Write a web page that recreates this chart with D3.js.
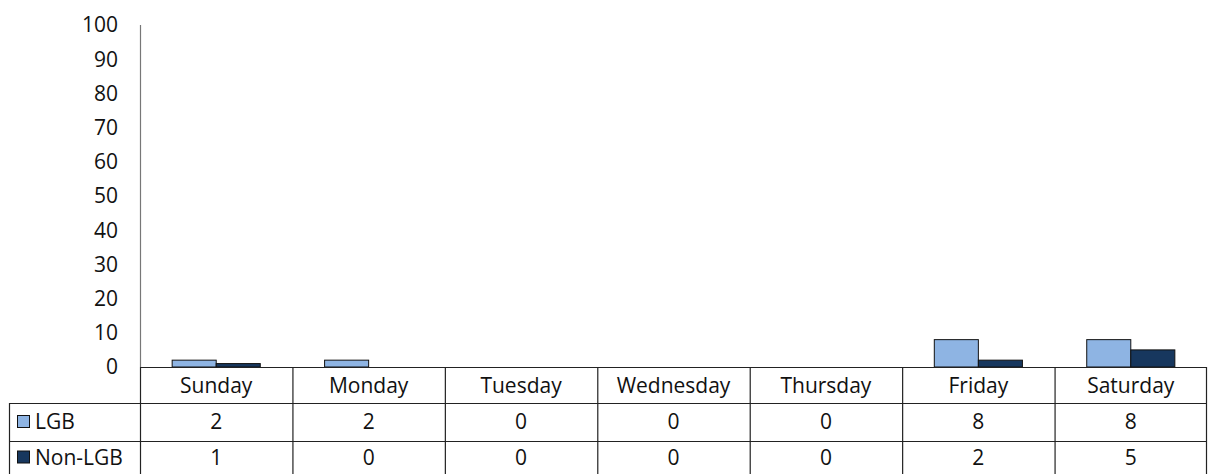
<!DOCTYPE html>
<html>
<head>
<meta charset="utf-8">
<script src="https://cdn.jsdelivr.net/npm/d3@7"></script>
<style>
  html, body { margin: 0; padding: 0; background: #fff; }
  svg { display: block; font-family: "Open Sans", "Noto Sans", sans-serif; }
  .tick-label { font-size: 21px; fill: #111; }
  .cell-text { font-size: 21px; fill: #111; }
</style>
</head>
<body>
<div id="chart"></div>
<script>
  // Data
  const days = ["Sunday", "Monday", "Tuesday", "Wednesday", "Thursday", "Friday", "Saturday"];
  const seriesNames = ["LGB", "Non-LGB"];
  const lgb = [2, 2, 0, 0, 0, 8, 8];
  const nonLgb = [1, 0, 0, 0, 0, 2, 5];
  const yTicks = [0, 10, 20, 30, 40, 50, 60, 70, 80, 90, 100];

  const COLORS = ["#8eb4e3", "#17375e"];
  const seriesValues = [lgb, nonLgb];

  const W = 1210, H = 474;
  const plotLeft = 140, plotRight = 1207;
  const plotTop = 25, plotBottom = 367;
  const tableLeft = 9;
  const rowTops = [367, 403, 441, 474];

  const svg = d3.select("#chart").append("svg")
    .attr("width", W).attr("height", H);

  const x = d3.scaleBand().domain(days).range([plotLeft, plotRight]);
  const xs = d3.scaleBand().domain(seriesNames)
    .range([0, x.bandwidth()]).paddingOuter(0.73);
  const y = d3.scaleLinear().domain([0, 100]).range([plotBottom, plotTop]);

  // Y axis labels
  svg.append("g").selectAll("text")
    .data(yTicks).join("text")
    .attr("class", "tick-label")
    .attr("x", 118)
    .attr("y", d => y(d))
    .attr("dy", "0.35em")
    .attr("text-anchor", "end")
    .text(d => d);

  // Y axis line
  svg.append("line")
    .attr("x1", plotLeft + 0.5).attr("x2", plotLeft + 0.5)
    .attr("y1", plotTop).attr("y2", plotBottom)
    .attr("stroke", "#777").attr("stroke-width", 1.2);

  // Bars
  seriesNames.forEach((s, si) => {
    svg.append("g").selectAll("rect")
      .data(days.map((d, i) => ({ day: d, v: seriesValues[si][i] })).filter(d => d.v > 0))
      .join("rect")
      .attr("x", d => x(d.day) + xs(s))
      .attr("width", xs.bandwidth())
      .attr("y", d => y(d.v))
      .attr("height", d => y(0) - y(d.v))
      .attr("fill", COLORS[si])
      .attr("stroke", "#111")
      .attr("stroke-width", 1);
  });

  // Data table
  const tbl = svg.append("g").attr("stroke", "#222").attr("stroke-width", 1.2);
  tbl.append("line").attr("x1", plotLeft).attr("x2", plotRight)
    .attr("y1", rowTops[0] + 0.5).attr("y2", rowTops[0] + 0.5);
  [1, 2].forEach(r => {
    tbl.append("line").attr("x1", tableLeft).attr("x2", plotRight)
      .attr("y1", rowTops[r] + 0.5).attr("y2", rowTops[r] + 0.5);
  });
  tbl.append("line").attr("x1", tableLeft + 0.5).attr("x2", tableLeft + 0.5)
    .attr("y1", rowTops[1]).attr("y2", H);
  days.forEach(d => {
    tbl.append("line").attr("x1", x(d) + 0.5).attr("x2", x(d) + 0.5)
      .attr("y1", rowTops[0]).attr("y2", H);
  });
  tbl.append("line").attr("x1", plotRight - 0.5).attr("x2", plotRight - 0.5)
    .attr("y1", rowTops[0]).attr("y2", H);

  // category labels
  svg.append("g").selectAll("text")
    .data(days).join("text")
    .attr("class", "cell-text")
    .attr("x", d => x(d) + x.bandwidth() / 2)
    .attr("y", (rowTops[0] + rowTops[1]) / 2 + 1)
    .attr("dy", "0.35em")
    .attr("text-anchor", "middle")
    .text(d => d);

  // series rows
  seriesNames.forEach((s, si) => {
    const cy = (rowTops[si + 1] + rowTops[si + 2]) / 2;
    svg.append("rect")
      .attr("x", 17.5).attr("y", cy - 6.5)
      .attr("width", 12).attr("height", 12)
      .attr("fill", COLORS[si]).attr("stroke", "#111").attr("stroke-width", 1);
    svg.append("text")
      .attr("class", "cell-text")
      .attr("x", 35).attr("y", cy).attr("dy", "0.35em")
      .text(s);
    svg.append("g").selectAll("text")
      .data(days.map((d, i) => ({ day: d, v: seriesValues[si][i] })))
      .join("text")
      .attr("class", "cell-text")
      .attr("x", d => x(d.day) + x.bandwidth() / 2)
      .attr("y", cy).attr("dy", "0.35em")
      .attr("text-anchor", "middle")
      .text(d => d.v);
  });
</script>
</body>
</html>
